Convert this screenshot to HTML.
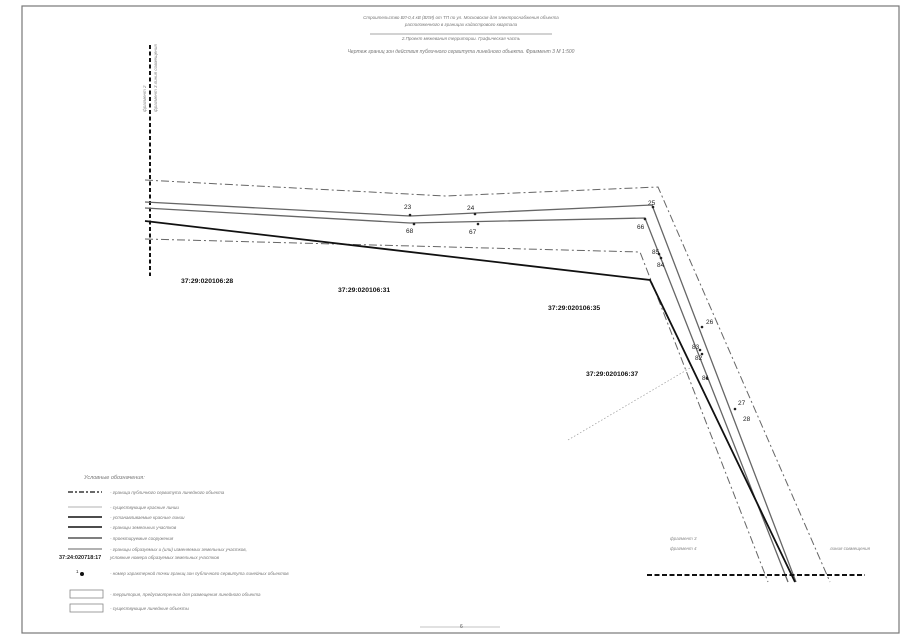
<!DOCTYPE html>
<html><head><meta charset="utf-8"><style>
body{margin:0;background:#fff;width:905px;height:640px;overflow:hidden}
svg{display:block}
text{font-family:"Liberation Sans",sans-serif}
</style></head><body>
<svg width="905" height="640" viewBox="0 0 905 640" xmlns="http://www.w3.org/2000/svg">
<rect x="22" y="6" width="877" height="627" fill="none" stroke="#777" stroke-width="1.2"/>
<!-- header -->
<g fill="#777" font-size="4.5" font-style="italic" text-anchor="middle">
<text x="461" y="19">Строительство ВЛ-0,4 кВ (ВЛИ) от ТП по ул. Московская для электроснабжения объекта</text>
<text x="461" y="26">расположенного в границах кадастрового квартала</text>
<text x="461" y="40">2.Проект межевания территории. Графическая часть</text>
<text x="461" y="53" font-size="5">Чертеж границ зон действия публичного сервитута линейного объекта. Фрагмент 3   М 1:500</text>
</g>
<line x1="370" y1="34" x2="552" y2="34" stroke="#888" stroke-width="0.8"/>
<!-- vertical dashed -->
<line x1="150" y1="45" x2="150" y2="276" stroke="#111" stroke-width="2" stroke-dasharray="4,2.5"/>
<g fill="#888" font-size="4.5" font-style="italic">
<text transform="translate(146,112) rotate(-90)">фрагмент 2</text>
<text transform="translate(157,112) rotate(-90)">фрагмент 3   линия совмещения</text>
</g>
<!-- dash-dot zones -->
<polyline points="145,180 445,196 658,187 830,582" fill="none" stroke="#666" stroke-width="1" stroke-dasharray="8,3,2,3"/>
<polyline points="145,239 640,252 768,582" fill="none" stroke="#666" stroke-width="1" stroke-dasharray="8,3,2,3"/>
<!-- double lines -->
<polyline points="145,202 410,216 652,205 796,582" fill="none" stroke="#666" stroke-width="1.3"/>
<polyline points="145,208 410,223 645,218 788,582" fill="none" stroke="#666" stroke-width="1.3"/>
<!-- thick -->
<polyline points="145,221 650,280 795,582" fill="none" stroke="#111" stroke-width="1.8"/>
<!-- dotted diagonal -->
<line x1="568" y1="440" x2="690" y2="368" stroke="#999" stroke-width="0.7" stroke-dasharray="1.5,2"/>
<!-- bottom dashed -->
<line x1="647" y1="575" x2="865" y2="575" stroke="#111" stroke-width="2" stroke-dasharray="5,2.5"/>
<g fill="#888" font-size="4.5" font-style="italic">
<text x="670" y="540">фрагмент 3</text>
<text x="670" y="550">фрагмент 4</text>
<text x="830" y="550">линия совмещения</text>
</g>
<!-- point labels -->
<g font-size="6.5" fill="#222">
<text x="404" y="209">23</text><text x="467" y="210">24</text><text x="648" y="205">25</text>
<text x="406" y="233">68</text><text x="469" y="234">67</text><text x="637" y="229">66</text>
<text x="652" y="254">85</text><text x="657" y="267">84</text>
<text x="706" y="324">26</text><text x="692" y="349">83</text><text x="695" y="360">82</text>
<text x="702" y="380">81</text><text x="738" y="405">27</text><text x="743" y="421">28</text>
</g>
<g fill="#222">
<circle cx="410" cy="215" r="1.3"/><circle cx="475" cy="214" r="1.3"/><circle cx="653" cy="207" r="1.3"/>
<circle cx="414" cy="224" r="1.3"/><circle cx="478" cy="224" r="1.3"/><circle cx="645" cy="219" r="1.3"/>
<circle cx="659" cy="254" r="1.3"/><circle cx="661" cy="258" r="1.3"/>
<circle cx="702" cy="327" r="1.3"/><circle cx="700" cy="350" r="1.3"/><circle cx="702" cy="354" r="1.3"/>
<circle cx="707" cy="378" r="1.3"/><circle cx="735" cy="409" r="1.3"/>
</g>
<!-- parcel labels -->
<g font-size="6.8" font-weight="bold" fill="#111">
<text x="181" y="283">37:29:020106:28</text>
<text x="338" y="292">37:29:020106:31</text>
<text x="548" y="310">37:29:020106:35</text>
<text x="586" y="376">37:29:020106:37</text>
</g>
<!-- legend -->
<g font-size="4.5" fill="#777" font-style="italic">
<text x="84" y="479" font-size="5.5">Условные обозначения:</text>
<line x1="68" y1="492" x2="102" y2="492" stroke="#555" stroke-width="1.8" stroke-dasharray="5,2,2,2"/>
<text x="110" y="494">- граница публичного сервитута линейного объекта</text>
<line x1="68" y1="507" x2="102" y2="507" stroke="#999" stroke-width="0.8"/>
<text x="110" y="509">- существующие красные линии</text>
<line x1="68" y1="517" x2="102" y2="517" stroke="#111" stroke-width="1.6"/>
<text x="110" y="519">- устанавливаемые красные линии</text>
<line x1="68" y1="527" x2="102" y2="527" stroke="#111" stroke-width="1.6"/>
<text x="110" y="529">- границы земельных участков</text>
<line x1="68" y1="538" x2="102" y2="538" stroke="#555" stroke-width="1.6"/>
<text x="110" y="540">- проектируемые сооружения</text>
<line x1="68" y1="549" x2="102" y2="549" stroke="#999" stroke-width="1.6"/>
<text x="110" y="551">- границы образуемых и (или) изменяемых земельных участков,</text>
<text x="110" y="559">условные номера образуемых земельных участков</text>
<text x="59" y="559" font-size="5.5" font-weight="bold" fill="#222" font-style="normal">37:24:020718:17</text>
<text x="76" y="573" fill="#222" font-style="normal">1</text>
<circle cx="82" cy="574" r="2" fill="#111"/>
<text x="110" y="575">- номер характерной точки границ зон публичного сервитута линейных объектов</text>
<rect x="70" y="590" width="33" height="8" fill="none" stroke="#888" stroke-width="0.8"/>
<text x="110" y="596">- территория, предусмотренная для размещения линейного объекта</text>
<rect x="70" y="604" width="33" height="8" fill="none" stroke="#888" stroke-width="0.8"/>
<text x="110" y="610">- существующие линейные объекты</text>
</g>
<line x1="420" y1="627" x2="500" y2="627" stroke="#888" stroke-width="0.6"/>
<text x="460" y="628" font-size="5" fill="#555">6</text>
</svg>
</body></html>
